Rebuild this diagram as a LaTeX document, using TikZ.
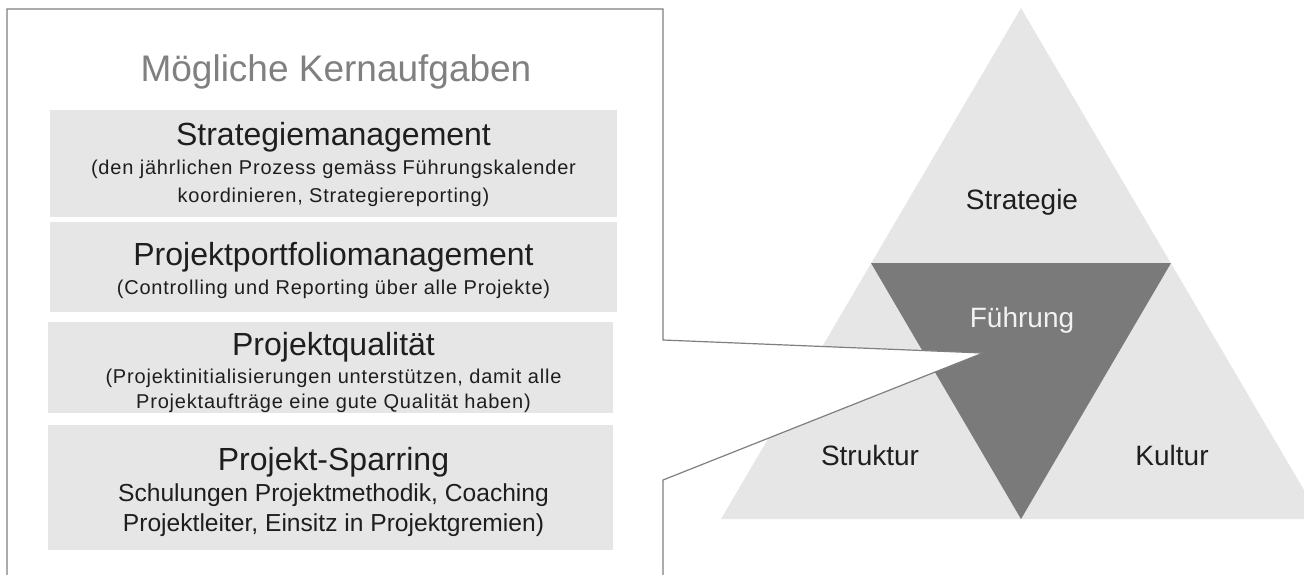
\documentclass[tikz,border=0pt]{standalone}
\usepackage{fontspec}
\setmainfont{Liberation Sans}
\definecolor{boxgray}{HTML}{E6E6E6}
\definecolor{darktri}{HTML}{7A7A7A}
\definecolor{frame}{HTML}{7F7F7F}
\definecolor{txt}{HTML}{1E1E1E}
\definecolor{titlegray}{HTML}{808080}
\definecolor{lighttxt}{HTML}{F2F2F2}
\begin{document}
\begin{tikzpicture}[x=0.5pt,y=-0.5pt,
  box/.style={fill=boxgray, draw=none, inner sep=0pt},
  head/.style={font=\fontsize{16}{19}\selectfont, text=txt, inner sep=0pt},
  subtxt/.style={font=\fontsize{10}{14}\selectfont\addfontfeature{LetterSpace=4}, text=txt, align=center, inner sep=0pt},
  subbig/.style={font=\fontsize{12.3}{15}\selectfont, text=txt, align=center, inner sep=0pt},
  trilabel/.style={font=\fontsize{14}{17}\selectfont, text=txt, inner sep=0pt}]
\useasboundingbox (0,0) rectangle (1304,574);
\clip (0,0) rectangle (1304,574);
% pyramid
\fill[boxgray] (1021,8) -- (721,519) -- (1321,519) -- cycle;
\fill[darktri] (871,263) -- (1171,263) -- (1021,519) -- cycle;
% callout frame
\draw[frame, fill=white, line width=0.6pt]
  (7,9) -- (663,9) -- (663,340) -- (983,353) -- (663,480) -- (663,600) -- (7,600) -- cycle;
% title
\node[font=\fontsize{18.5}{22}\selectfont, text=titlegray] (title) at (336,72) {Mögliche Kernaufgaben};
% boxes
\node[box, minimum width=283.5pt, minimum height=53.5pt] (b1) at (333.5,163.5) {};
\node[box, minimum width=283.5pt, minimum height=45pt] (b2) at (333.5,267) {};
\node[box, minimum width=282.5pt, minimum height=45.5pt] (b3) at (330.5,367.5) {};
\node[box, minimum width=282.5pt, minimum height=62.5pt] (b4) at (330.5,487.5) {};
% box texts
\node[head] (h1) at (333.5,137) {Strategiemanagement};
\node[subtxt] (s1) at (333.5,183) {(den jährlichen Prozess gemäss Führungskalender\\koordinieren, Strategiereporting)};
\node[head] (h2) at (333.5,257) {Projektportfoliomanagement};
\node[subtxt] (s2) at (333.5,289) {(Controlling und Reporting über alle Projekte)};
\node[head] (h3) at (333.5,347) {Projektqualität};
\node[subtxt, font=\fontsize{10}{12.5}\selectfont\addfontfeature{LetterSpace=4}] (s3) at (333.5,391) {(Projektinitialisierungen unterstützen, damit alle\\Projektaufträge eine gute Qualität haben)};
\node[head] (h4) at (333.5,462) {Projekt-Sparring};
\node[subbig] (s4) at (333.5,510) {Schulungen Projektmethodik, Coaching\\Projektleiter, Einsitz in Projektgremien)};
% pyramid labels
\node[trilabel] (strat) at (1022,202) {Strategie};
\node[trilabel, text=lighttxt] (fuehr) at (1022,320) {Führung};
\node[trilabel] (strukt) at (870,455) {Struktur};
\node[trilabel] (kult) at (1172,455) {Kultur};
\end{tikzpicture}
\end{document}
